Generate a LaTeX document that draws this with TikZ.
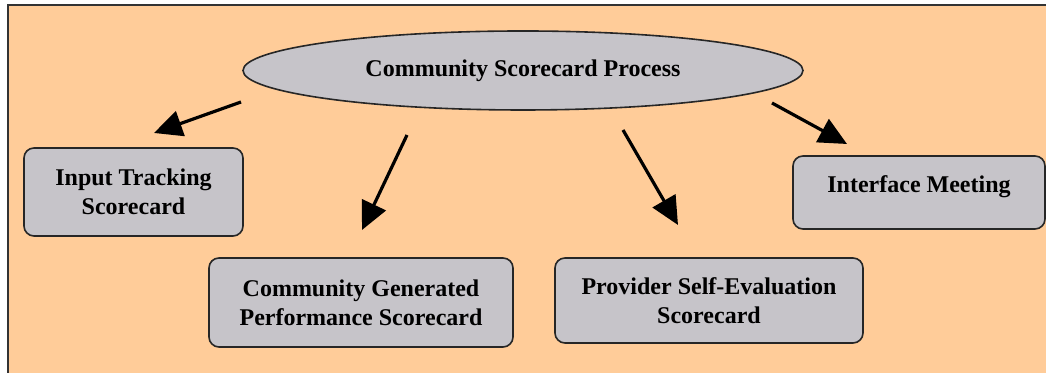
\documentclass[tikz,border=0pt]{standalone}
\usepackage{fontspec}
\setmainfont{Liberation Serif}
\usepackage{tikz}
\usetikzlibrary{arrows.meta,shapes.geometric}
\definecolor{bgorange}{RGB}{255,204,153}
\definecolor{boxgray}{RGB}{198,196,201}

\begin{document}
\begin{tikzpicture}[x=0.5pt,y=0.5pt,
	cardbox/.style={draw=black!85,line width=0.8pt,fill=boxgray,rounded corners=5pt,
		align=center,inner sep=0pt,font=\bfseries\fontsize{12}{14.5}\selectfont},
	procell/.style={ellipse,draw=black!85,line width=0.8pt,fill=boxgray,inner sep=0pt,
		minimum width=280pt,minimum height=39.5pt,font=\bfseries\fontsize{12}{14.5}\selectfont},
	fatarrow/.style={line width=1.6pt,-{Triangle[length=14pt,width=13pt]}}]
			%%%%% START %%%%%
			\def\w{1046}
			\def\h{373}
			\def\edge{8}
			\def\top{368}
			
			\useasboundingbox (0,0) rectangle (\w,\h);
			\fill[bgorange] (\edge,0) rectangle (\w,\top);
			\draw[line width=1.1pt,black!80] (\edge,0) -- (\edge,\top) -- (\w,\top);
			
			\node[procell] (proc) at (523,302.5) {Community Scorecard Process};
			
			\node[cardbox,minimum width=109.5pt,minimum height=44pt] (input) at (133.5,181) {Input Tracking\\Scorecard};
			\node[cardbox,minimum width=152pt,minimum height=44.5pt] (community) at (361,70.5) {Community Generated\\Performance Scorecard};
			\node[cardbox,minimum width=154pt,minimum height=42.5pt] (provider) at (709,72.5) {Provider Self-Evaluation\\Scorecard};
			\node[cardbox,minimum width=126pt,minimum height=36.5pt,text height=8pt,text depth=8pt] (meeting) at (919,180.5) {Interface Meeting};
			
			% free ends of the arrows
			\coordinate (inputfrom) at (241,271);
			\coordinate (inputto) at (154,240);
			\coordinate (communityfrom) at (407,238);
			\coordinate (communityto) at (362,143);
			\coordinate (providerfrom) at (623,243);
			\coordinate (providerto) at (678,148);
			\coordinate (meetingfrom) at (772,270);
			\coordinate (meetingto) at (847,229);
			
			\draw[fatarrow] (inputfrom) -- (inputto);
			\draw[fatarrow] (communityfrom) -- (communityto);
			\draw[fatarrow] (providerfrom) -- (providerto);
			\draw[fatarrow] (meetingfrom) -- (meetingto);
			%%%%% END %%%%%
\end{tikzpicture}
\end{document}
